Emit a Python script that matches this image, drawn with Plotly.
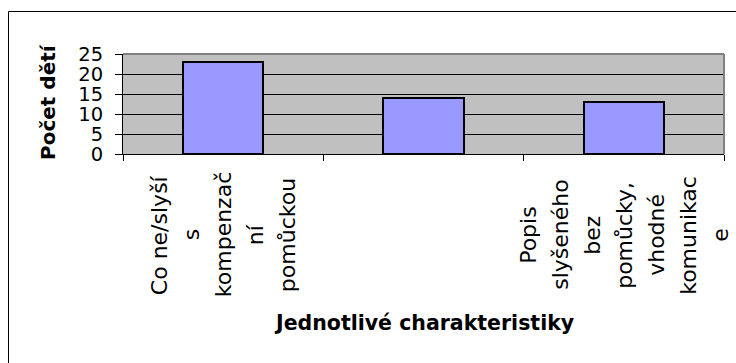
import plotly.graph_objects as go

# Data
categories = [
    "Co ne/slyší s kompenzační pomůckou",
    "",
    "Popis slyšeného bez pomůcky, vhodné komunikace",
]
category_lines = [
    ["Co ne/slyší", "s", "kompenzač", "ní", "pomůckou"],
    [],
    ["Popis", "slyšeného", "bez", "pomůcky,", "vhodné", "komunikac", "e"],
]
counts = [23, 14, 13]
y_ticks = [0, 5, 10, 15, 20, 25]
y_title = "Počet dětí"
x_title = "Jednotlivé charakteristiky"

W, H = 736, 363
L, R, T, B = 123, 12, 54, 209
plot_w = W - L - R
plot_h = H - T - B

def px_x(p):
    return (p - L) / plot_w

def px_y(p):
    return (H - B - p) / plot_h

positions = list(range(len(categories)))

fig = go.Figure()
fig.add_trace(go.Bar(
    x=positions,
    y=counts,
    width=0.4,
    marker=dict(color="#9999FF", line=dict(color="black", width=2)),
    hoverinfo="skip",
))

annotations = []
line_gap = 32
for idx, lines in enumerate(category_lines):
    n = len(lines)
    for j, txt in enumerate(lines):
        annotations.append(dict(
            x=idx, xref="x", xshift=(j - (n - 1) / 2) * line_gap,
            y=px_y(235), yref="paper",
            text=txt, showarrow=False, textangle=-90,
            xanchor="center", yanchor="middle",
            font=dict(family="DejaVu Sans", size=22, color="black"),
        ))

annotations.append(dict(
    x=px_x(48), xref="paper", y=px_y(102), yref="paper",
    text=f"<b>{y_title}</b>", showarrow=False, textangle=-90,
    xanchor="center", yanchor="middle",
    font=dict(family="DejaVu Sans", size=20, color="black"),
))
annotations.append(dict(
    x=0.5, xref="paper", y=px_y(323), yref="paper",
    text=f"<b>{x_title}</b>", showarrow=False,
    xanchor="center", yanchor="middle",
    font=dict(family="DejaVu Sans", size=20.5, color="black"),
))

shapes = [
    # outer frame of the chart
    dict(type="rect", xref="paper", yref="paper",
         x0=px_x(8.5), x1=px_x(W + 20), y0=px_y(H + 20), y1=px_y(11.5),
         line=dict(color="black", width=1), layer="above"),
    # plot-area border on top and right
    dict(type="line", xref="paper", yref="paper", x0=0, x1=1, y0=1, y1=1,
         line=dict(color="#808080", width=2), layer="above"),
    dict(type="line", xref="paper", yref="paper", x0=1, x1=1, y0=0, y1=1,
         line=dict(color="#808080", width=2), layer="above"),
]

fig.update_layout(
    width=W, height=H,
    margin=dict(l=L, r=R, t=T, b=B, pad=0),
    paper_bgcolor="white",
    plot_bgcolor="#C0C0C0",
    showlegend=False,
    bargap=0,
    annotations=annotations,
    shapes=shapes,
    xaxis=dict(
        range=[-0.5, len(categories) - 0.5],
        tickmode="array",
        tickvals=[i - 0.5 for i in range(len(categories) + 1)],
        showticklabels=False,
        ticks="outside", ticklen=6, tickcolor="black", tickwidth=1,
        showline=True, linecolor="black", linewidth=1,
        showgrid=False, zeroline=False, fixedrange=True,
    ),
    yaxis=dict(
        range=[0, 25],
        tickmode="array", tickvals=y_ticks,
        ticktext=[str(v) for v in y_ticks],
        ticks="outside", ticklen=7, tickcolor="black", tickwidth=1,
        ticklabelstandoff=8,
        tickfont=dict(family="DejaVu Sans", size=19.5, color="black"),
        showline=True, linecolor="black", linewidth=1,
        showgrid=True, gridcolor="black", gridwidth=1,
        zeroline=False, fixedrange=True,
    ),
)

fig.write_html("out.html", config={"displayModeBar": False})
